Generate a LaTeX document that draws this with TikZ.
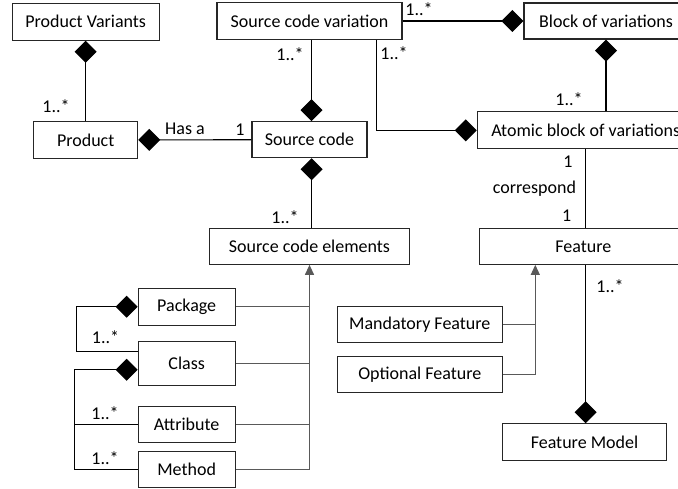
\documentclass[tikz,border=0pt]{standalone}
\usepackage{fontspec}
\setmainfont{Carlito}
\usepackage{tikz}
\usetikzlibrary{arrows.meta, positioning, calc}

\begin{document}
\begin{tikzpicture}[x=1pt, y=-1pt,
    box/.style={draw=black!85, line width=1.1pt, fill=white, inner sep=2pt,
      minimum height=36pt, font=\fontsize{18}{21}\selectfont},
    mult/.style={inner sep=0pt, font=\fontsize{18}{21}\selectfont},
    comp/.style={draw=black, line width=1.1pt, -{Diamond[length=22pt, width=22pt]}},
    assoc/.style={draw=black, line width=1.1pt},
    gen/.style={draw=black!65, line width=1.1pt, -{Triangle[length=10pt, width=9pt]}},
    genline/.style={draw=black!65, line width=1.1pt}]
  \clip (0,0) rectangle (678,489);
  \fill[white] (0,0) rectangle (678,489);

  % ===== Product side =====
  \node[box, minimum width=147pt, minimum height=37pt] (pv) at (85.7, 21.7) {Product Variants};
  \node[box, minimum width=104pt, minimum height=37pt] (prod) at (85.7, 140) {Product};

  % ===== Source code =====
  \node[box, minimum width=185pt, minimum height=37pt] (scv) at (309.5, 21) {Source code variation};
  \node[box, minimum width=115pt] (sc) at (309.5, 139.7) {Source code};
  \node[box, minimum width=200pt] (sce) at (309.5, 246.3) {Source code elements};

  % Elements
  \node[box, minimum width=97pt, minimum height=37pt] (pkg) at (186.7, 306.7) {Package};
  \node[box, minimum width=97pt, minimum height=44pt] (cls) at (186.7, 363.8) {Class\hspace{26pt}};
  \node[box, minimum width=97pt] (attr) at (186.7, 424.7) {Attribute};
  \node[box, minimum width=97pt] (meth) at (186.7, 469.7) {Method};

  % ===== Variations / features =====
  \node[box, minimum width=164pt] (bov) at (606, 21) {Block of variations};
  \node[box, minimum width=217pt, minimum height=37pt] (abv) at (585.7, 130.4) {Atomic block of variations};
  \node[box, minimum width=208pt] (feat) at (583.3, 246.3) {Feature};
  \node[box, minimum width=165pt] (mand) at (419.8, 324.7) {Mandatory Feature};
  \node[box, minimum width=165pt] (opt) at (419.8, 374.7) {Optional Feature};
  \node[box, minimum width=164pt, minimum height=37pt] (fm) at (584.5, 442.3) {Feature Model};

  % Composition links
  \draw[comp] (prod.north) -- (pv.south);
  \draw[comp] (sc.west) -- (prod.east);
  \draw[comp] ([xshift=2pt]scv.south) -- ([xshift=2pt]sc.north);
  \draw[comp] (scv.east) -- (bov.west);
  \draw[comp] ([xshift=-26pt]scv.south east) |- (abv.west);
  \draw[comp] (abv.north -| bov.south) -- (bov.south);
  \draw[comp] ([xshift=2pt]sce.north) -- ([xshift=2pt]sc.south);
  \draw[comp] (feat.south -| abv.south) -- (fm.north -| abv.south);
  \draw[assoc] (abv.south) -- (feat.north -| abv.south);

  % Package / Class
  \draw[comp] ([yshift=12pt]cls.west) -- ++(-61.6,0) |- (pkg.west);
  \draw[comp] (meth.west) -- ++(-63.3,0) |- ([yshift=-6pt]cls.west);
  \draw[assoc] (attr.west) -- ++(-63.3,0);

  % Generalization
  \draw[gen] (meth.east) -| (sce.south);
  \draw[genline] (pkg.east) -- (pkg.east -| sce.south);
  \draw[genline] (cls.east) -- (cls.east -| sce.south);
  \draw[genline] (attr.east) -- (attr.east -| sce.south);
  \draw[gen] (opt.east) -| ([xshift=-48pt]feat.south);
  \draw[genline] (mand.east) -- ++(32.7,0);

  % Labels
  \node[mult] (m1) at (56, 106) {1..*};
  \node[mult] (hasa) at (185, 129) {Has a};
  \node[mult] (m2) at (240, 130) {1};
  \node[mult] (m3) at (290, 54) {1..*};
  \node[mult] (m4) at (419, 9) {1..*};
  \node[mult] (m5) at (394, 53) {1..*};
  \node[mult] (m6) at (569, 99) {1..*};
  \node[mult] (m7) at (568, 162) {1};
  \node[mult] (corr) at (534.5, 189) {correspond};
  \node[mult] (m8) at (566.7, 215.7) {1};
  \node[mult] (m9) at (285, 217) {1..*};
  \node[mult] (m10) at (610, 286) {1..*};
  \node[mult] (m11) at (105.5, 337) {1..*};
  \node[mult] (m12) at (105, 413) {1..*};
  \node[mult] (m13) at (105, 458) {1..*};
\end{tikzpicture}
\end{document}
